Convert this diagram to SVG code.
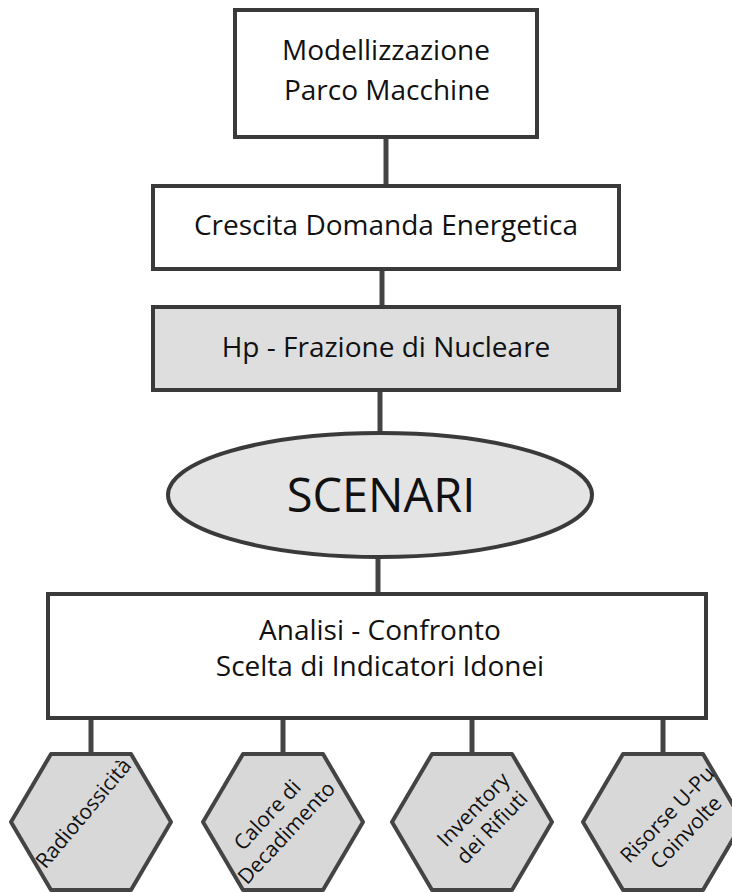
<svg xmlns="http://www.w3.org/2000/svg" width="732" height="892" viewBox="0 0 732 892">
<style>
.box{fill:#ffffff;stroke:#3a3a3a;stroke-width:4}
.gray{fill:#dedede;stroke:#3a3a3a;stroke-width:4}
.ell{fill:#e4e4e4;stroke:#3a3a3a;stroke-width:4}
.hex{fill:#d8d8d8;stroke:#444;stroke-width:4;stroke-linejoin:round}
.conn{stroke:#444;stroke-width:5;fill:none}
text{font-family:"Open Sans","Noto Sans","Liberation Sans",sans-serif;fill:#111;text-anchor:middle}
.t28{font-size:28px}
.t47{font-size:47px}
.t21{font-size:21px}
</style>
<rect width="732" height="892" fill="#ffffff"/>
<g id="connectors">
<line class="conn" x1="386" y1="137" x2="386" y2="186"/>
<line class="conn" x1="382" y1="269" x2="382" y2="307"/>
<line class="conn" x1="380" y1="390" x2="380" y2="433"/>
<line class="conn" x1="378" y1="557" x2="378" y2="594"/>
<line class="conn" x1="91" y1="718" x2="91" y2="754"/>
<line class="conn" x1="283" y1="718" x2="283" y2="754"/>
<line class="conn" x1="472" y1="718" x2="472" y2="754"/>
<line class="conn" x1="663" y1="718" x2="663" y2="754"/>
</g>
<g id="modellizzazione">
<rect class="box" x="235" y="10" width="302" height="127"/>
<text class="t28" x="386" y="60">Modellizzazione</text>
<text class="t28" x="387" y="100">Parco Macchine</text>
</g>
<g id="crescita">
<rect class="box" x="153" y="186" width="466" height="83"/>
<text class="t28" x="386" y="235">Crescita Domanda Energetica</text>
</g>
<g id="frazione">
<rect class="gray" x="153" y="307" width="466" height="83"/>
<text class="t28" x="386" y="357">Hp - Frazione di Nucleare</text>
</g>
<g id="scenari">
<ellipse class="ell" cx="380" cy="495" rx="212" ry="62"/>
<text class="t47" x="381" y="512">SCENARI</text>
</g>
<g id="analisi">
<rect class="box" x="48" y="594" width="658" height="124"/>
<text class="t28" x="380" y="640">Analisi - Confronto</text>
<text class="t28" x="380" y="676">Scelta di Indicatori Idonei</text>
</g>
<g id="radiotossicita">
<polygon class="hex" points="51,754 131,754 171,822 131,890 51,890 11,822"/>
<text class="t21" transform="translate(89,818) rotate(-50)">Radiotossicità</text>
</g>
<g id="calore">
<polygon class="hex" points="243,754 323,754 363,822 323,890 243,890 203,822"/>
<text class="t21" transform="translate(277,824) rotate(-47)"><tspan x="0" y="-6">Calore di</tspan><tspan x="0" y="20">Decadimento</tspan></text>
</g>
<g id="inventory">
<polygon class="hex" points="432,754 512,754 552,822 512,890 432,890 392,822"/>
<text class="t21" transform="translate(482,818) rotate(-46)"><tspan x="0" y="-5">Inventory</tspan><tspan x="0" y="21">dei Rifiuti</tspan></text>
</g>
<g id="risorse">
<polygon class="hex" points="623,754 703,754 743,822 703,890 623,890 583,822"/>
<text class="t21" transform="translate(676,823) rotate(-46)"><tspan x="0" y="-5">Risorse U-Pu</tspan><tspan x="0" y="21">Coinvolte</tspan></text>
</g>
</svg>
